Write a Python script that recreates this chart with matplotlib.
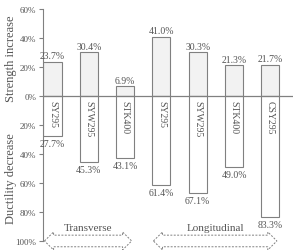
import matplotlib
matplotlib.use("Agg")
import matplotlib.pyplot as plt
from matplotlib.patches import Polygon

categories = ["SY295", "SYW295", "STK400", "SY295", "SYW295", "STK400", "CSY295"]
strength = [23.7, 30.4, 6.9, 41.0, 30.3, 21.3, 21.7]
ductility = [27.7, 45.3, 43.1, 61.4, 67.1, 49.0, 83.3]
yticks = [60, 40, 20, 0, -20, -40, -60, -80, -100]
ytick_labels = ["60%", "40%", "20%", "0%", "20%", "40%", "60%", "80%", "100%"]
groups = [("Transverse", 0, 2), ("Longitudinal", 3, 6)]

plt.rcParams['font.family'] = ['Liberation Serif', 'DejaVu Serif']
tc = "#555555"
ec = "#808080"

fig = plt.figure(figsize=(3.01, 2.51), dpi=100)
ax = fig.add_axes([0.143, 0.036, 0.83, 0.924])
x = list(range(len(categories)))
w = 0.5
ax.bar(x, strength, width=w, color="#f2f2f2", edgecolor=ec, linewidth=0.8)
ax.bar(x, [-d for d in ductility], width=w, color="white", edgecolor=ec, linewidth=0.8)
for xi, s, d, c in zip(x, strength, ductility, categories):
    ax.text(xi, s + 0.8, f"{s:.1f}%", ha="center", va="bottom", fontsize=7, color=tc)
    ax.text(xi, -d - 2, f"{d:.1f}%", ha="center", va="top", fontsize=7, color=tc)
    ax.text(xi, -3, c, rotation=270, ha="center", va="top", fontsize=7, color=tc)
ax.axhline(0, color=ec, linewidth=0.9)
ax.set_xlim(-0.26, 6.62)
ax.set_ylim(-100, 60)
ax.set_yticks(yticks)
ax.set_yticklabels(ytick_labels, fontsize=6.5, color=tc)
ax.set_xticks([])
for s in ["top", "right", "bottom"]:
    ax.spines[s].set_visible(False)
ax.spines["left"].set_color(ec)
ax.tick_params(axis="y", length=3, direction="out", color=ec, pad=2)

fig.text(0.035, 0.765, "Strength increase", rotation=90, ha="center", va="center", fontsize=9, color=tc)
fig.text(0.035, 0.288, "Ductility decrease", rotation=90, ha="center", va="center", fontsize=9, color=tc)

yc, hh, bh, hl = -100, 6.2, 4.0, 0.25
for name, a, b in groups:
    x0, x1 = a - 0.22, b + 0.18
    pts = [(x0, yc), (x0 + hl, yc + hh), (x0 + hl, yc + bh), (x1 - hl, yc + bh),
           (x1 - hl, yc + hh), (x1, yc), (x1 - hl, yc - hh), (x1 - hl, yc - bh),
           (x0 + hl, yc - bh), (x0 + hl, yc - hh)]
    poly = Polygon(pts, closed=True, facecolor="white", edgecolor=ec,
                   linestyle=(0, (2, 1.5)), linewidth=0.7, clip_on=False)
    ax.add_patch(poly)
    ax.text((x0 + x1) / 2, -93.5, name, ha="center", va="bottom", fontsize=8, color=tc)

fig.savefig("out.png", dpi=100)
